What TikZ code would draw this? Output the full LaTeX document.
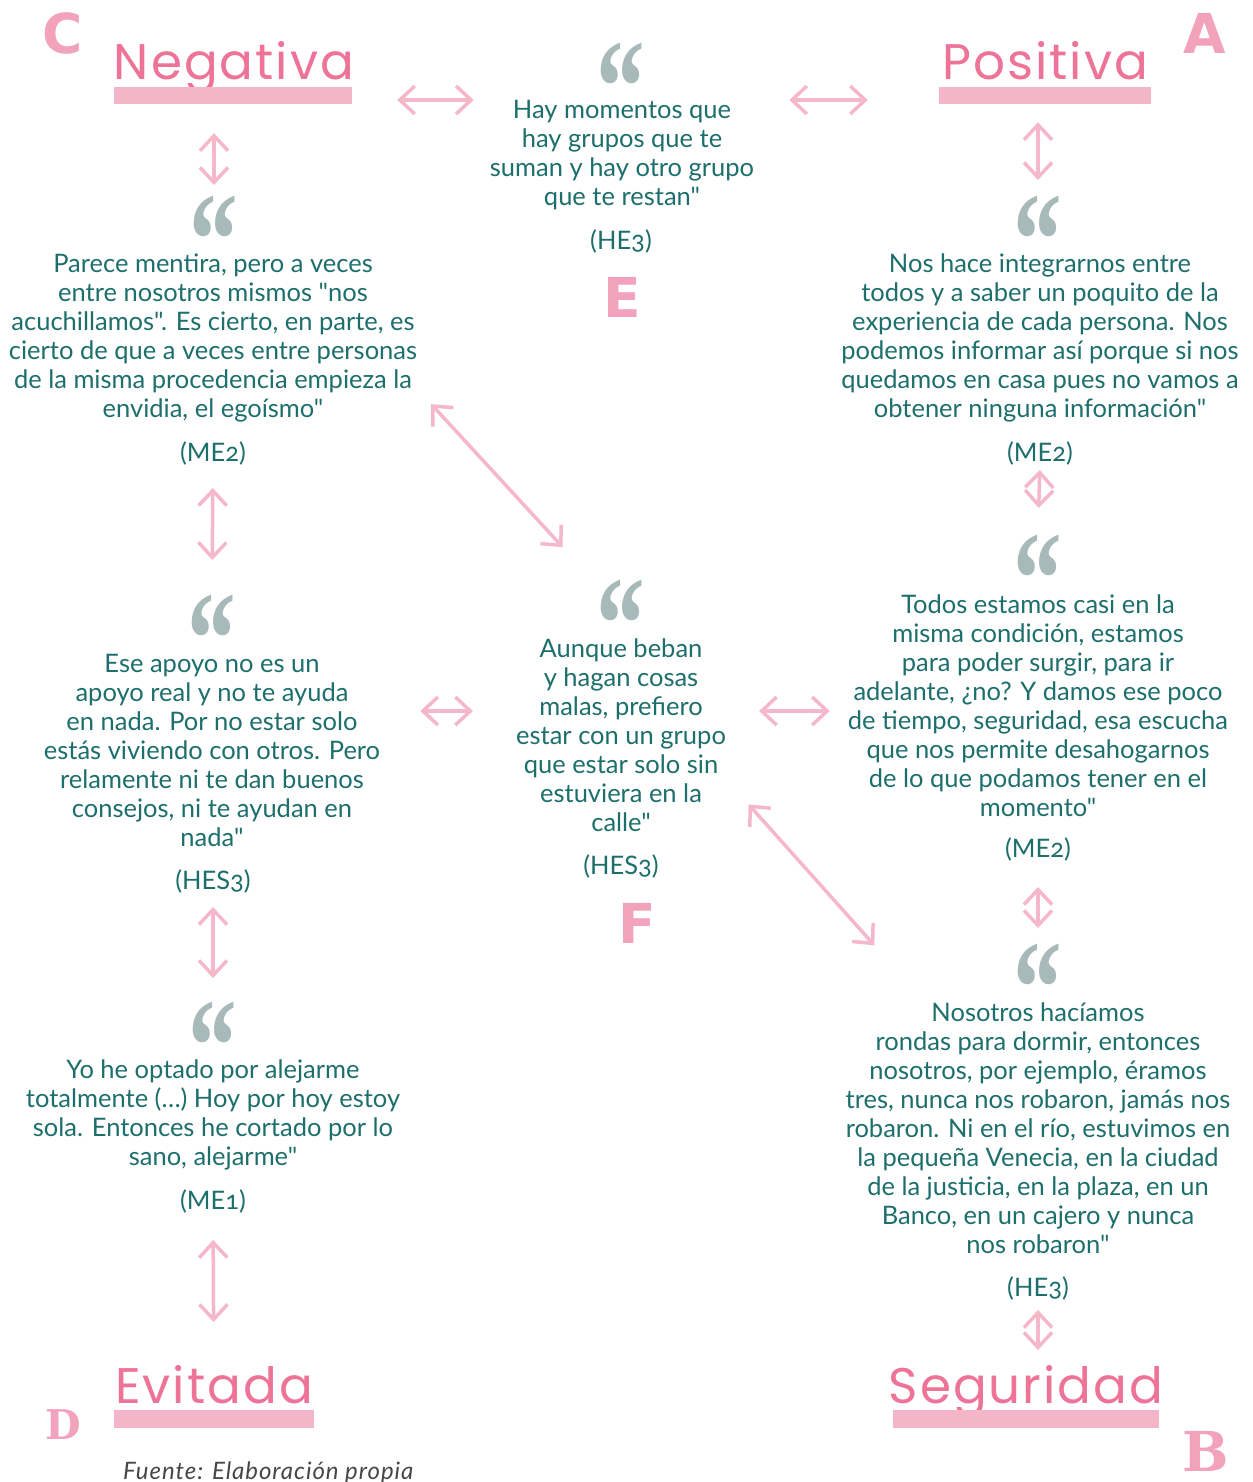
\documentclass[tikz,border=0pt]{standalone}
\usepackage{fontspec}
\setmainfont{Lato}[Numbers=OldStyle, Ligatures=TeXOff]
\newfontfamily\titlefont{Poppins}[LetterSpace=4]
\newfontfamily\markfont{Liberation Serif}
\newfontfamily\signfont{DejaVu Sans}
\newfontfamily\slabfont{DejaVu Serif}
\usetikzlibrary{arrows.meta}
\definecolor{verde}{HTML}{1D6F6C}
\definecolor{rosa}{HTML}{EE7399}
\definecolor{rosabar}{HTML}{F4B5C8}
\definecolor{rosalink}{HTML}{F5B8CB}
\definecolor{rosasign}{HTML}{F2A3BB}
\definecolor{gris}{HTML}{A8B9B9}
\newcommand\dq{\symbol{34}}
\newcommand\openmark{\scalebox{0.81}[1.12]{“}}
\begin{document}
\begin{tikzpicture}[x=1pt, y=-1pt,
  title/.style={anchor=base, inner sep=0, text=rosa, font=\titlefont\fontsize{50}{50}\selectfont},
  bar/.style={fill=rosabar, inner sep=0, minimum height=17},
  quote/.style={anchor=north, inner sep=0, text depth=-52pt, text=gris, font=\markfont\bfseries\fontsize{120}{120}\selectfont},
  testimony/.style={align=center, inner sep=0, text=verde, font=\fontsize{25.5}{29}\selectfont},
  code/.style={anchor=base, inner sep=0, text=verde, font=\fontsize{25.5}{29}\selectfont},
  sign/.style={inner sep=0, text=rosasign, font=\signfont\bfseries\fontsize{55}{55}\selectfont},
  slab/.style={inner sep=0, text=rosasign, font=\slabfont\bfseries\fontsize{55}{55}\selectfont},
  link/.style={{Straight Barb[length=15pt,width=28pt]}-{Straight Barb[length=15pt,width=28pt]}, draw=rosalink, line width=3.5pt, line cap=round}
]
  \path[fill=white, use as bounding box] (0,0) rectangle (1252,1482);

  % quadrant letters
  \node[sign] (lC) at (63,33) {C};
  \node[sign] (lA) at (1205,33) {A};
  \node[sign] (lE) at (622,297) {E};
  \node[sign] (lF) at (637,923) {F};
  \node[slab, font=\slabfont\bfseries\fontsize{41}{41}\selectfont] (lD) at (63,1425) {D};
  \node[slab] (lB) at (1206,1451) {B};

  % titles
  \node[title] (neg) at (234,80) {Negativa};
  \node[bar, minimum width=238] (negbar) at (233,95.5) {};
  \node[title] (pos) at (1045,80) {Positiva};
  \node[bar, minimum width=212] (posbar) at (1045,95.5) {};
  \node[title] (evi) at (214,1403) {Evitada};
  \node[bar, minimum width=200, minimum height=18] (evibar) at (214,1419) {};
  \node[title] (seg) at (1026,1403) {Seguridad};
  \node[bar, minimum width=266, minimum height=18] (segbar) at (1026,1419) {};

  % quotes
  \node[quote] (qE) at (621,43) {\openmark};
  \node[testimony] (tE) at (622,155.5) {Hay momentos que\\hay grupos que te\\suman y hay otro grupo\\que te restan\dq};
  \node[code] (rE) at (621,249.5) {(HE3)};

  \node[quote] (qNeg) at (214,196) {\openmark};
  \node[testimony] (tNeg) at (213,338) {Parece mentira, pero a veces\\entre nosotros mismos \dq nos\\acuchillamos\dq. Es cierto, en parte, es\\cierto de que a veces entre personas\\de la misma procedencia empieza la\\envidia, el egoísmo\dq};
  \node[code] (rNeg) at (213,461.5) {(ME2)};

  \node[quote] (qPos) at (1038,196) {\openmark};
  \node[testimony] (tPos) at (1040,338) {Nos hace integrarnos entre\\todos y a saber un poquito de la\\experiencia de cada persona. Nos\\podemos informar así porque si nos\\quedamos en casa pues no vamos a\\obtener ninguna información\dq};
  \node[code] (rPos) at (1040,461.5) {(ME2)};

  \node[quote] (qPos2) at (1038,535) {\openmark};
  \node[testimony] (tPos2) at (1038,705.5) {Todos estamos casi en la\\misma condición, estamos\\para poder surgir, para ir\\adelante, ¿no? Y damos ese poco\\de tiempo, seguridad, esa escucha\\que nos permite desahogarnos\\de lo que podamos tener en el\\momento\dq};
  \node[code] (rPos2) at (1038,857.5) {(ME2)};

  \node[quote] (qNeg2) at (212,595) {\openmark};
  \node[testimony] (tNeg2) at (212,750.5) {Ese apoyo no es un\\apoyo real y no te ayuda\\en nada. Por no estar solo\\estás viviendo con otros. Pero\\relamente ni te dan buenos\\consejos, ni te ayudan en\\nada\dq};
  \node[code] (rNeg2) at (213,889.5) {(HES3)};

  \node[quote] (qMid) at (621,580) {\openmark};
  \node[testimony] (tMid) at (621,735.5) {Aunque beban\\y hagan cosas\\malas, prefiero\\estar con un grupo\\que estar solo sin\\estuviera en la\\calle\dq};
  \node[code] (rMid) at (621,874.5) {(HES3)};

  \node[quote] (qNeg3) at (213,1002) {\openmark};
  \node[testimony] (tNeg3) at (213,1115) {Yo he optado por alejarme\\totalmente (…) Hoy por hoy estoy\\sola. Entonces he cortado por lo\\sano, alejarme\dq};
  \node[code] (rNeg3) at (213,1209.5) {(ME1)};

  \node[quote] (qPos3) at (1038,944) {\openmark};
  \node[testimony] (tPos3) at (1038,1128.5) {Nosotros hacíamos\\rondas para dormir, entonces\\nosotros, por ejemplo, éramos\\tres, nunca nos robaron, jamás nos\\robaron. Ni en el río, estuvimos en\\la pequeña Venecia, en la ciudad\\de la justicia, en la plaza, en un\\Banco, en un cajero y nunca\\nos robaron\dq};
  \node[code] (rPos3) at (1038,1296.5) {(HE3)};

  \node[anchor=base west, inner sep=0, text=black!72, font=\itshape\addfontfeature{LetterSpace=4}\fontsize{24}{24}\selectfont] (fuente) at (123,1479) {Fuente: Elaboración propia};

  % links
  \draw[link, shorten <=45, shorten >=16] ([yshift=-4.5pt]negbar.east) -- ([yshift=55.5pt]tE.west);
  \draw[link, shorten <=35, shorten >=71] ([yshift=55.5pt]tE.east) -- ([yshift=-4.5pt]posbar.west);
  \draw[link, shorten <=29, shorten >=11] (qNeg.north |- negbar.south) -- (qNeg.north);
  \draw[link, shorten <=18, shorten >=16] (qPos.north |- posbar.south) -- (qPos.north);
  \draw[link, shorten <=26.5, shorten >=35] (rNeg.base) -- (qNeg2.north);
  \draw[link, shorten <=8.5, shorten >=27] (rPos.base) -- (qPos2.north);
  \draw[link, shorten <=20.6, shorten >=124.6] ([yshift=-51pt]tNeg.east) -- ([xshift=26pt]tMid.north);
  \draw[link, shorten <=40, shorten >=43] ([yshift=39.5pt]tNeg2.east) -- ([yshift=24.5pt]tMid.west);
  \draw[link, shorten <=33, shorten >=18] ([yshift=24.5pt]tMid.east) -- ([yshift=-5.5pt]tPos2.west);
  \draw[link, shorten <=92.4, shorten >=245.7] ([xshift=66pt]tMid.center) -- (tPos3.center);
  \draw[link, shorten <=17.5, shorten >=24] (rNeg2.base) -- (qNeg3.north);
  \draw[link, shorten <=29.5, shorten >=16] (rPos2.base) -- (qPos3.north);
  \draw[link, shorten <=30.5, shorten >=81] (rNeg3.base) -- (evi.base);
  \draw[link, shorten <=13.5, shorten >=53] (rPos3.base) -- (rPos3.base |- seg.base);
\end{tikzpicture}
\end{document}
